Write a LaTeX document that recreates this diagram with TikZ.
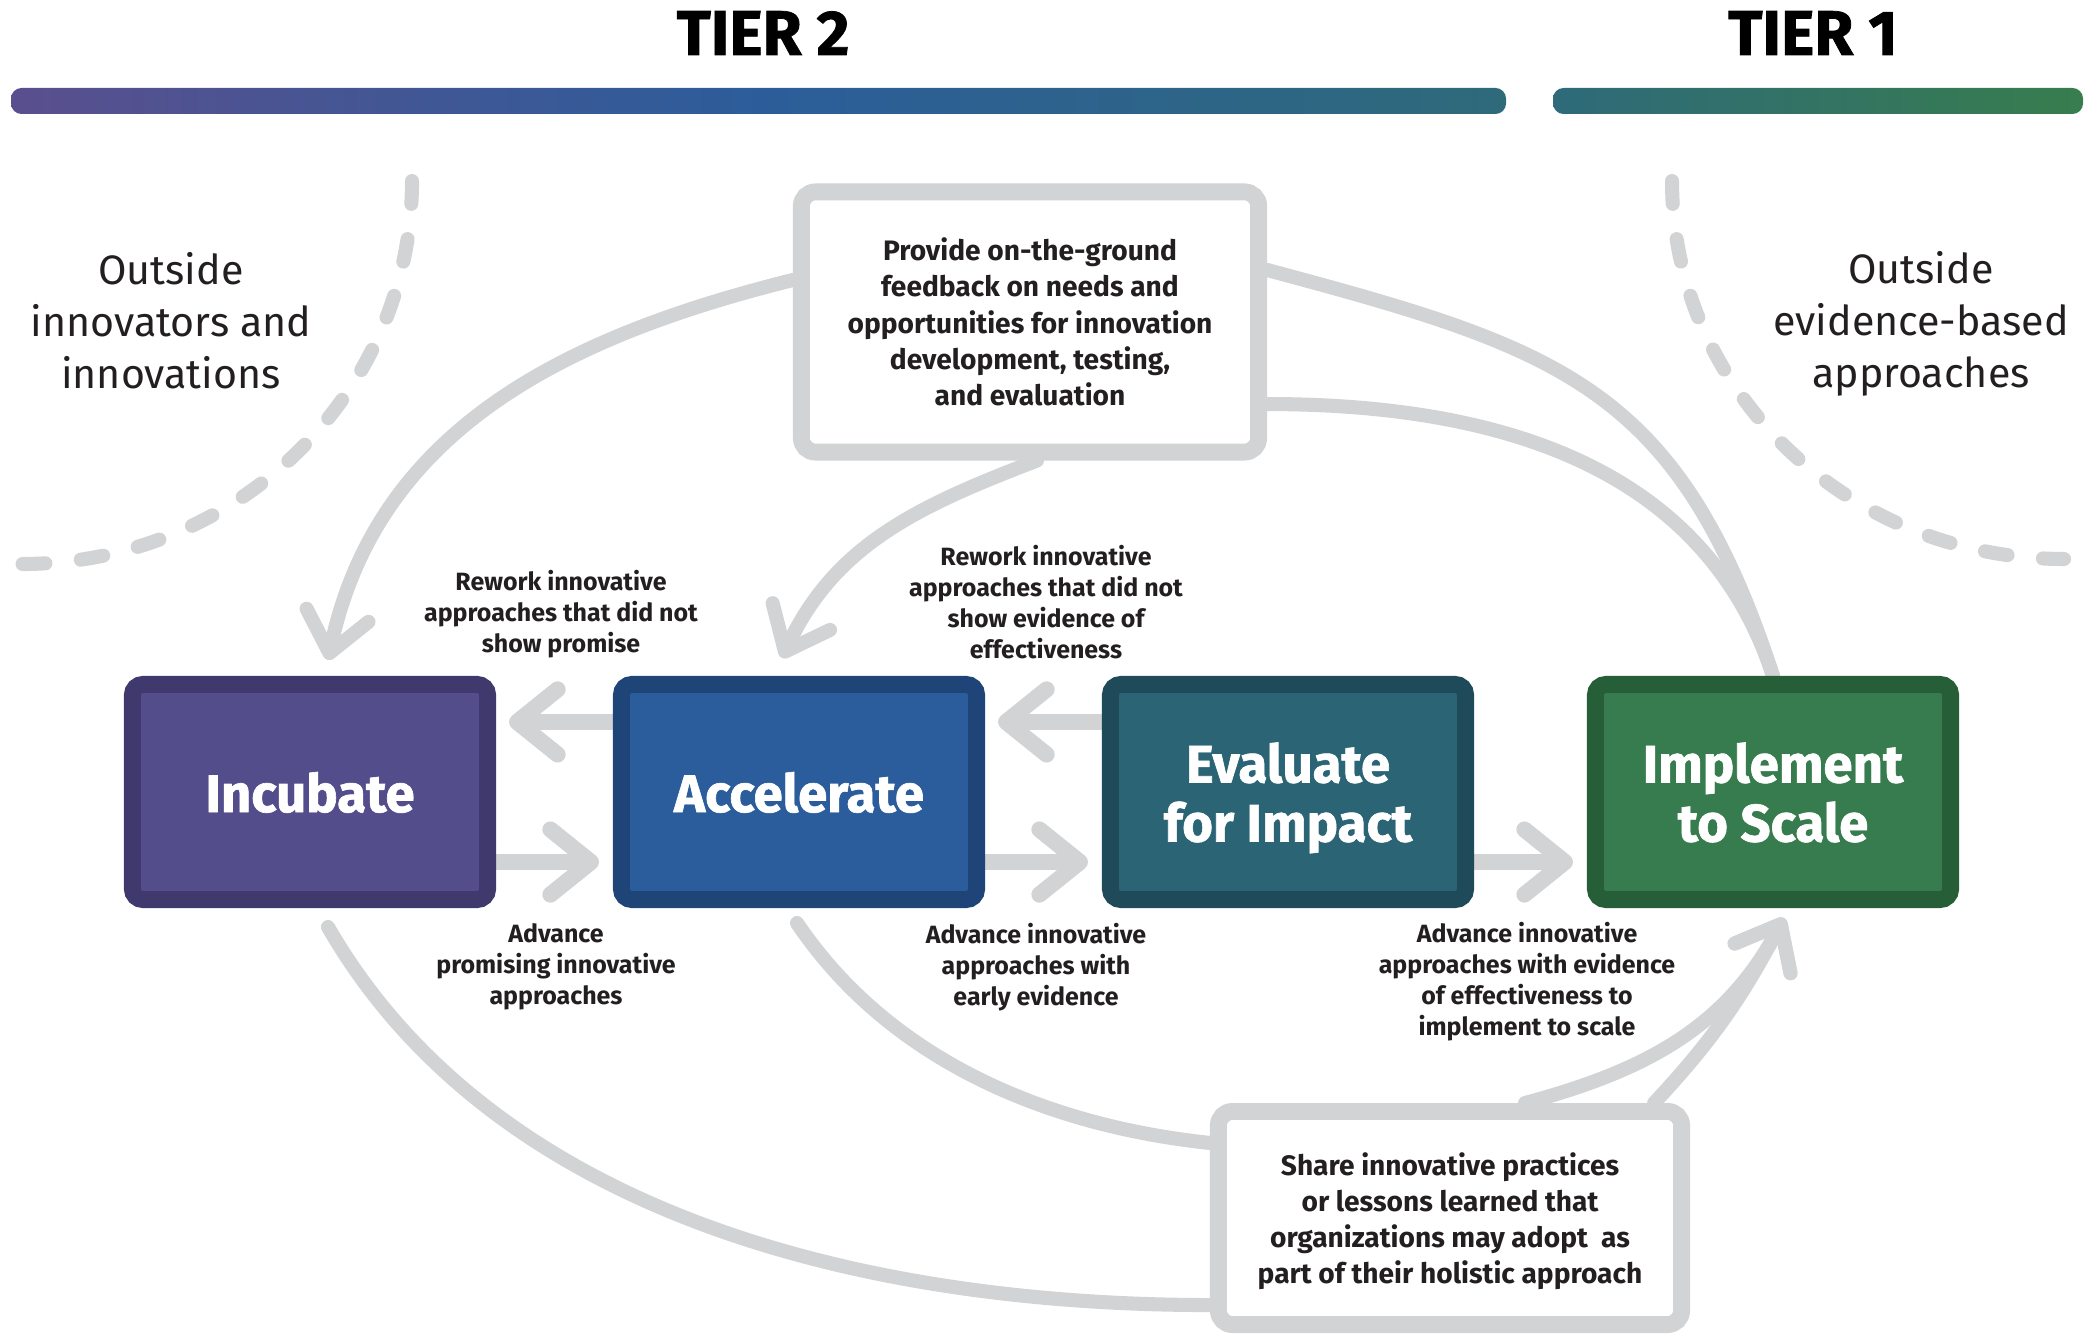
\documentclass[tikz,border=0pt]{standalone}
\usepackage{fontspec}
\setmainfont{Fira Sans}
\newfontfamily\heavyfont{Fira Sans}[FakeBold=1.2]
\usepackage{tikz}
\usetikzlibrary{arrows.meta}
\usetikzlibrary{backgrounds}
\usepackage{xcolor}
\definecolor{flowgray}{HTML}{D1D3D4}
\definecolor{inkgray}{HTML}{231F20}
\definecolor{tierpurple}{HTML}{5A4F8E}
\definecolor{tierblue}{HTML}{2C5D9A}
\definecolor{tierteal}{HTML}{2E6A7A}
\definecolor{tiergreen}{HTML}{377D4D}
\definecolor{incubatefill}{HTML}{534E8B}
\definecolor{incubateedge}{HTML}{40396E}
\definecolor{acceleratefill}{HTML}{2B5C9B}
\definecolor{accelerateedge}{HTML}{1F4478}
\definecolor{evaluatefill}{HTML}{2A6475}
\definecolor{evaluateedge}{HTML}{1F4A5A}
\definecolor{implementfill}{HTML}{367C4E}
\definecolor{implementedge}{HTML}{265E38}
\pgfdeclarehorizontalshading{tiertwoshade}{100bp}{color(0bp)=(tierpurple); color(25bp)=(tierpurple); color(50bp)=(tierblue); color(75bp)=(tierteal); color(100bp)=(tierteal)}
\pgfdeclarehorizontalshading{tieroneshade}{100bp}{color(0bp)=(tierteal); color(25bp)=(tierteal); color(75bp)=(tiergreen); color(100bp)=(tiergreen)}
\tikzset{
	stage/.style={line width=4.8pt, rounded corners=3pt, minimum width=3.55cm, minimum height=2.15cm, inner sep=0pt, text depth=0pt, text=white, align=center, font=\heavyfont\bfseries\fontsize{15}{16.8}\selectfont},
	notebox/.style={draw=flowgray, fill=white, line width=4.8pt, rounded corners=4pt, inner sep=0pt, align=center, text=inkgray, font=\bfseries\fontsize{8}{10.3}\selectfont},
	steplabel/.style={align=center, text=inkgray, font=\bfseries\fontsize{7.1}{8.8}\selectfont},
	outsidelabel/.style={align=center, text=inkgray, font=\fontsize{11.7}{14.8}\selectfont},
	tierlabel/.style={anchor=base, font=\heavyfont\bfseries\fontsize{18}{20}\selectfont},
	flow/.style={draw=flowgray, line width=4pt, line cap=round},
	flowtip/.style={flow, -{Straight Barb[length=11pt, width=18pt, round]}},
	passline/.style={draw=flowgray, line width=4.6pt, -{Straight Barb[length=11.5pt, width=18.5pt, round]}},
	dashline/.style={draw=flowgray, line width=4pt, line cap=round, dash pattern=on 6.5pt off 10.1pt}
}

\begin{document}
\begin{tikzpicture}[x=0.01cm, y=0.01cm]
	\useasboundingbox (0,0) rectangle (2098,1336);
	\shade[shading=tiertwoshade, rounded corners=3pt] (11,1222) rectangle (1506,1248);
	\shade[shading=tieroneshade, rounded corners=3pt] (1553,1222) rectangle (2083,1248);
	\node[tierlabel] (tiertwo) at (763,1281) {TIER 2};
	\node[tierlabel] (tierone) at (1813,1281) {TIER 1};
	\draw[dashline] (412,1155) arc[start angle=0, end angle=-90, x radius=390, y radius=383];
	\draw[dashline] (1672,1155) arc[start angle=180, end angle=270, x radius=392, y radius=378];
	\node[outsidelabel] (outsideleft) at (171,1015) {Outside\\innovators and\\innovations};
	\node[outsidelabel] (outsideright) at (1921,1012) {Outside\\evidence-based\\approaches};

	\node[stage, draw=incubateedge, fill=incubatefill] (incubate) at (310,544) {Incubate};
	\node[stage, draw=accelerateedge, fill=acceleratefill] (accelerate) at (799,544) {Accelerate};
	\node[stage, draw=evaluateedge, fill=evaluatefill] (evaluate) at (1288,544) {Evaluate\\for Impact};
	\node[stage, draw=implementedge, fill=implementfill] (implement) at (1773,544) {Implement\\to Scale};
	\node[notebox, minimum width=4.57cm, minimum height=2.6cm] (feedback) at (1030,1014) {Provide on-the-ground\\feedback on needs and\\opportunities for innovation\\development, testing,\\and evaluation};
	\node[notebox, minimum width=4.63cm, minimum height=2.13cm, text depth=0pt] (share) at (1450,118) {Share innovative practices\\or lessons learned that\\organizations may adopt\ \ as\\part of their holistic approach};

	\node[steplabel] (reworkpromise) at (561,722) {Rework innovative\\approaches that did not\\show promise};
	\node[steplabel] (reworkevidence) at (1046,734) {Rework innovative\\approaches that did not\\show evidence of\\effectiveness};
	\node[steplabel] (advpromising) at (556,369) {Advance\\promising innovative\\approaches};
	\node[steplabel] (advearly) at (1036,369) {Advance innovative\\approaches with\\early evidence};
	\node[steplabel] (advscale) at (1527,354) {Advance innovative\\approaches with evidence\\of effectiveness to\\implement to scale};

	\begin{scope}[on background layer]
		\draw[flowtip] ([yshift=4.2mm]feedback.west) to[out=194, in=78] ([xshift=1.8mm, yshift=1.6mm]incubate.north);
		\draw[flowtip] ([xshift=0.7mm]feedback.south) to[out=201, in=65] ([xshift=-1.7mm, yshift=1.8mm]accelerate.north);
		\draw[flow] ([yshift=5.2mm]feedback.east) to[out=-15, in=108, looseness=1.2] (implement.north);
		\draw[flow] ([yshift=-8.2mm]feedback.east) to[out=0, in=108] (implement.north);
		\draw[flow] ([xshift=1.8mm, yshift=-1.9mm]incubate.south) to[out=-60, in=180, looseness=0.9] ([yshift=-8.7mm]share.west);
		\draw[flow] ([xshift=-0.2mm, yshift=-1.5mm]accelerate.south) to[out=-56, in=174, looseness=0.9] ([yshift=7.5mm]share.west);
		\draw[flowtip] ([xshift=7.5mm]share.north) to[out=15, in=242] ([xshift=1.1mm, yshift=-1mm]implement.south);
		\draw[flowtip] ([xshift=20.4mm]share.north) to[out=47, in=242] ([xshift=1.1mm, yshift=-1mm]implement.south);
		\draw[passline] ([yshift=-7mm]incubate.east) -- ([xshift=-1.4mm, yshift=-7mm]accelerate.west);
		\draw[passline] ([yshift=7mm]accelerate.west) -- ([xshift=1.3mm, yshift=7mm]incubate.east);
		\draw[passline] ([yshift=-7mm]accelerate.east) -- ([xshift=-1.4mm, yshift=-7mm]evaluate.west);
		\draw[passline] ([yshift=7mm]evaluate.west) -- ([xshift=1.3mm, yshift=7mm]accelerate.east);
		\draw[passline] ([yshift=-7mm]evaluate.east) -- ([xshift=-1.4mm, yshift=-7mm]implement.west);
	\end{scope}
\end{tikzpicture}
\end{document}
